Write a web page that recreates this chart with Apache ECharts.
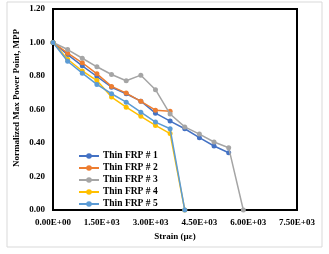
<!DOCTYPE html>
<html>
<head>
<meta charset="utf-8">
<script src="https://cdn.jsdelivr.net/npm/echarts@6/dist/echarts.min.js"></script>
<style>
  html, body { margin: 0; padding: 0; background: #fff; }
  #chart { width: 329px; height: 254px; }
</style>
</head>
<body>
<div id="chart"></div>
<script>
const seriesNames = ['Thin FRP # 1', 'Thin FRP # 2', 'Thin FRP # 3', 'Thin FRP # 4', 'Thin FRP # 5']

// strain (µε) per series
const strain1 = [0, 450, 900, 1350, 1800, 2250, 2700, 3150, 3600, 4050, 4500, 4950, 5400]
const strain2 = [0, 450, 900, 1350, 1800, 2250, 2700, 3150, 3600]
const strain3 = [0, 450, 900, 1350, 1800, 2250, 2700, 3150, 3600, 4050, 4500, 4950, 5400, 5850]
const strain4 = [0, 450, 900, 1350, 1800, 2250, 2700, 3150, 3600, 4050]
const strain5 = [0, 450, 900, 1350, 1800, 2250, 2700, 3150, 3600, 4050]

// normalized MPP
const mpp1 = [1.0, 0.928, 0.861, 0.797, 0.733, 0.694, 0.650, 0.578, 0.531, 0.485, 0.432, 0.382, 0.342]
const mpp2 = [1.0, 0.936, 0.879, 0.813, 0.738, 0.698, 0.649, 0.596, 0.589]
const mpp3 = [1.0, 0.958, 0.906, 0.855, 0.809, 0.772, 0.805, 0.718, 0.573, 0.496, 0.453, 0.406, 0.372, 0]
const mpp4 = [1.0, 0.900, 0.830, 0.773, 0.674, 0.614, 0.559, 0.505, 0.456, 0]
const mpp5 = [1.0, 0.888, 0.817, 0.750, 0.694, 0.644, 0.584, 0.525, 0.485, 0]

const colors = ['#4472C4', '#ED7D31', '#A5A5A5', '#FFC000', '#5B9BD5']

const strains = [strain1, strain2, strain3, strain4, strain5]
const mpps = [mpp1, mpp2, mpp3, mpp4, mpp5]

const font = 'Liberation Serif'

const sci = v => {
  const parts = Number(v).toExponential(2).split('e')
  const n = parseInt(parts[1], 10)
  return parts[0] + 'E' + (n < 0 ? '-' : '+') + String(Math.abs(n)).padStart(2, '0')
}

const chart = echarts.init(document.getElementById('chart'))

const option = {
  animation: false,
  color: colors,
  grid: {
    left: 53,
    right: 32,
    top: 9,
    bottom: 44,
    show: true,
    borderColor: '#000',
    borderWidth: 2
  },
  legend: {
    orient: 'vertical',
    left: 73,
    top: 145,
    itemWidth: 20,
    itemHeight: 7,
    itemGap: 0,
    data: seriesNames,
    textStyle: {
      fontFamily: font,
      fontWeight: 'bold',
      fontSize: 9.5,
      lineHeight: 12,
      color: '#000',
      padding: [0, 0, 0, -1]
    }
  },
  xAxis: {
    type: 'value',
    min: 0,
    max: 7500,
    interval: 1500,
    name: 'Strain (µε)',
    nameLocation: 'middle',
    nameGap: 22,
    nameTextStyle: { fontFamily: font, fontWeight: 'bold', fontSize: 9, color: '#000' },
    axisLine: { show: false },
    axisTick: { show: false },
    splitLine: { show: false },
    axisLabel: {
      formatter: sci,
      margin: 8,
      fontFamily: font,
      fontWeight: 'bold',
      fontSize: 9,
      color: '#000'
    }
  },
  yAxis: {
    type: 'value',
    min: 0,
    max: 1.2,
    interval: 0.2,
    axisLine: { show: false },
    axisTick: { show: false },
    splitLine: { show: false },
    axisLabel: {
      formatter: v => v.toFixed(2),
      margin: 8,
      fontFamily: font,
      fontWeight: 'bold',
      fontSize: 9,
      color: '#000'
    }
  },
  graphic: [
    {
      type: 'rect',
      shape: { x: 7, y: 2, width: 315, height: 245 },
      style: { fill: 'none', stroke: '#d9d9d9', lineWidth: 1 },
      silent: true
    },
    {
      type: 'text',
      x: 17,
      y: 98,
      rotation: Math.PI / 2,
      style: {
        text: 'Normalized Max Power Point, MPP',
        fontFamily: font,
        fontWeight: 'bold',
        fontSize: 9,
        fill: '#000',
        align: 'center',
        verticalAlign: 'middle'
      }
    }
  ],
  series: seriesNames.map((name, i) => ({
    name: name,
    type: 'line',
    data: strains[i].map((s, j) => [s, mpps[i][j]]),
    symbol: 'circle',
    symbolSize: 5,
    lineStyle: { width: 1.5, color: colors[i] },
    itemStyle: { color: colors[i] },
    z: 2 + i
  }))
}

chart.setOption(option)
</script>
</body>
</html>
